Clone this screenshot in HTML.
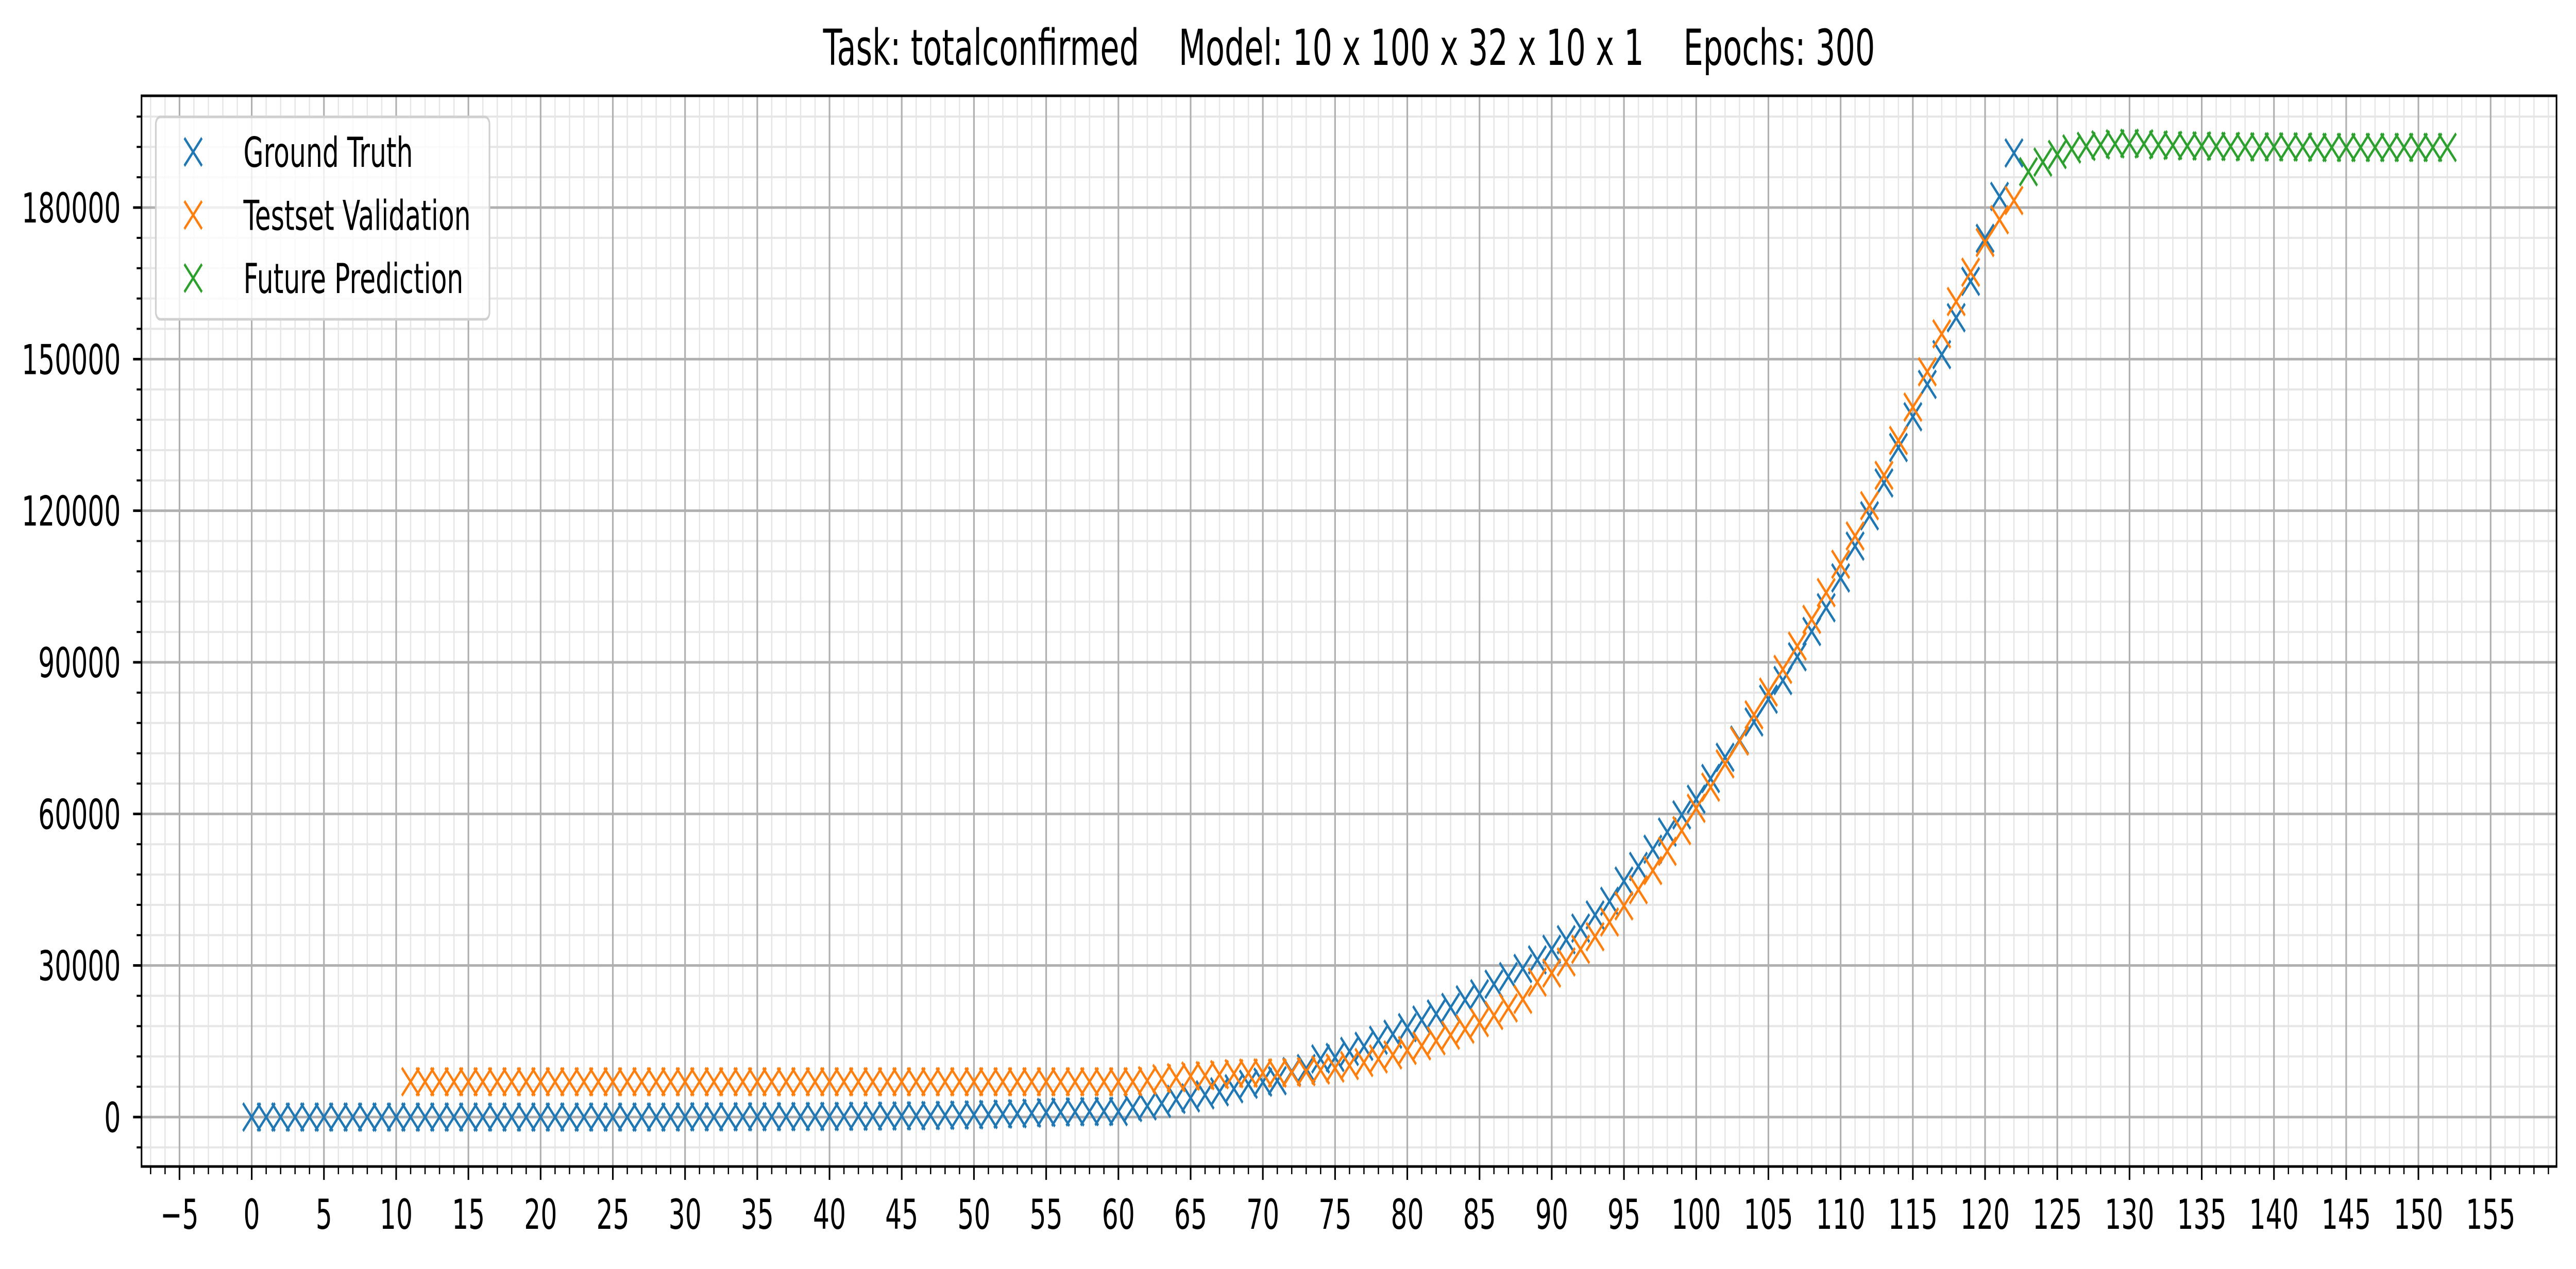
<!DOCTYPE html>
<html><head><meta charset="utf-8"><style>
html,body{margin:0;padding:0;background:#fff;width:100%;height:100%;overflow:hidden}
svg{display:block;width:100vw;height:100vh}
text{font-family:"DejaVu Sans","Liberation Sans",sans-serif;fill:#000}
</style></head><body>
<svg id="chart" xmlns="http://www.w3.org/2000/svg" viewBox="0 0 7936 2464" preserveAspectRatio="none">
<rect x="0" y="0" width="7936" height="2464" fill="#fff"/>
<g id="grid-minor"></g>
<g id="grid-major"></g>
<g id="series"></g>
<g id="axes"></g>
<text x="4156" y="126" font-size="96" text-anchor="middle" style="white-space:pre" xml:space="preserve">Task: totalconfirmed    Model: 10 x 100 x 32 x 10 x 1    Epochs: 300</text>
<g>
<rect x="480" y="227" width="1028" height="393" rx="14" fill="#fff" fill-opacity="0.8" stroke="#d0d0d0" stroke-width="5"/>
<g id="legend-items"></g>
</g>
</svg>
<script>
const gtValues=[0,0,0,0,0,0,0,0,0,0,0,0,0,0,0,0,0,0,0,0,0,0,0,0,0,0,0,0,0,0,50,50,50,60,60,70,80,90,100,110,120,140,160,180,200,230,260,300,350,400,450,520,600,680,780,900,1000,1050,1100,1150,1100,1900,2200,2700,3500,3800,4400,5000,5600,6500,6900,7200,9000,9600,11500,11800,13000,14000,15200,16400,17700,19200,20400,21700,23200,24400,26300,27800,29400,31100,33200,35100,37400,40000,42700,46700,49600,53000,56400,59800,62900,67000,71200,74600,78200,82700,86400,91100,96100,100800,106700,113000,119000,125500,132500,138600,145000,150900,158200,165400,173900,182200,190800];
const tvStart=11;
const tvValues=[7000,7000,7000,7000,7000,7000,7000,7000,7000,7000,7000,7000,7000,7000,7000,7000,7000,7000,7000,7000,7000,7000,7000,7000,7000,7000,7000,7000,7000,7000,7000,7000,7000,7000,7000,7000,7000,7000,7000,7000,7000,7000,7000,7000,7000,7000,7000,7000,7000,7000,7000,7200,7600,7800,8100,8200,8400,8600,8700,8750,8700,8800,9000,9300,9700,10200,10800,11500,12300,13200,14100,15100,16200,17400,18700,20100,21600,23300,26700,28500,30700,33200,35700,38600,41800,45000,48800,52600,56700,61100,65300,69900,74400,79600,84100,88600,93200,98500,103800,109400,115000,121000,127000,133900,140500,147500,155000,161400,167200,173100,177600,181400];
const fpStart=123;
const fpValues=[187100,189000,190500,191600,192100,192400,192600,192700,192600,192400,192300,192200,192200,192100,192100,192000,192000,192000,192000,192000,191900,191900,191900,191900,191900,191900,191900,191900,191900,191900];
const xTicks=[-5,0,5,10,15,20,25,30,35,40,45,50,55,60,65,70,75,80,85,90,95,100,105,110,115,120,125,130,135,140,145,150,155];
const yTicks=[0,30000,60000,90000,120000,150000,180000];

const L=436,R=7876,T=186,B=2265;
const X=v=>775.5+v*44.5;
const Y=v=>2169-v*0.009811;
const NS="http://www.w3.org/2000/svg";
function mk(tag,attrs,parent){const e=document.createElementNS(NS,tag);for(const k in attrs)e.setAttribute(k,attrs[k]);parent.appendChild(e);return e;}
const gMin=document.getElementById('grid-minor'),gMaj=document.getElementById('grid-major'),gS=document.getElementById('series'),gA=document.getElementById('axes');

for(let v=-7;v<=159;v++){
  const l=mk('line',{x1:X(v),x2:X(v),y1:T,y2:B,stroke:'#e6e6e6','stroke-width':4},gMin);
  
  
}
for(let v=-6000;v<=198000;v+=6000){
  const l=mk('line',{x1:L,x2:R,y1:Y(v),y2:Y(v),stroke:'#e6e6e6','stroke-width':4},gMin);
  
  
}
xTicks.forEach(v=>{
  const l=mk('line',{x1:X(v),x2:X(v),y1:T,y2:B,stroke:'#b0b0b0','stroke-width':5},gMaj);
  
  
});
yTicks.forEach(v=>{
  const l=mk('line',{x1:L,x2:R,y1:Y(v),y2:Y(v),stroke:'#b0b0b0','stroke-width':5},gMaj);
  
  
});

function marker(x,y,color,parent,name){
  const h=27;
  const p=mk('path',{d:`M${x-h},${y-h}L${x+h},${y+h}M${x-h},${y+h}L${x+h},${y-h}`,stroke:color,'stroke-width':6,fill:'none'},parent);
  
  
}
const gGT=mk('g',{},gS);


gtValues.forEach((v,i)=>marker(X(i),Y(v),'#1f77b4',gGT,'ground-truth-point'));
const gTV=mk('g',{},gS);


tvValues.forEach((v,i)=>marker(X(tvStart+i),Y(v),'#ff7f0e',gTV,'testset-validation-point'));
const gFP=mk('g',{},gS);


fpValues.forEach((v,i)=>marker(X(fpStart+i),Y(v),'#2ca02c',gFP,'future-prediction-point'));

const fr=mk('rect',{x:L,y:T,width:R-L,height:B-T,fill:'none',stroke:'#000','stroke-width':5},gA);


for(let v=-7;v<=159;v++){
  const t=mk('line',{x1:X(v),x2:X(v),y1:B,y2:B+15,stroke:'#000','stroke-width':4},gA);
  
  
}
xTicks.forEach(v=>{
  const t=mk('line',{x1:X(v),x2:X(v),y1:B,y2:B+26,stroke:'#000','stroke-width':5},gA);
  
  
  const tx=mk('text',{x:X(v),y:2386,'font-size':80,'text-anchor':'middle'},gA);
  tx.textContent=v<0?'\u2212'+Math.abs(v):String(v);
  
  
});
for(let v=-6000;v<=198000;v+=6000){
  const t=mk('line',{x1:L-15,x2:L,y1:Y(v),y2:Y(v),stroke:'#000','stroke-width':4},gA);
  
  
}
yTicks.forEach(v=>{
  const t=mk('line',{x1:L-26,x2:L,y1:Y(v),y2:Y(v),stroke:'#000','stroke-width':5},gA);
  
  
  const tx=mk('text',{x:372,y:Y(v)+29,'font-size':80,'text-anchor':'end'},gA);
  tx.textContent=String(v);
  
  
});

const legendLabels=['Ground Truth','Testset Validation','Future Prediction'];
const legendColors=['#1f77b4','#ff7f0e','#2ca02c'];
const gL=document.getElementById('legend-items');
legendLabels.forEach((lab,i)=>{
  const cy=295+i*122.5;
  const g=mk('g',{},gL);
  
  
  marker(595,cy,legendColors[i],g,'legend-marker');
  const tx=mk('text',{x:750,y:cy+29,'font-size':80},g);
  tx.textContent=lab;
  
  
});
</script>
</body></html>
